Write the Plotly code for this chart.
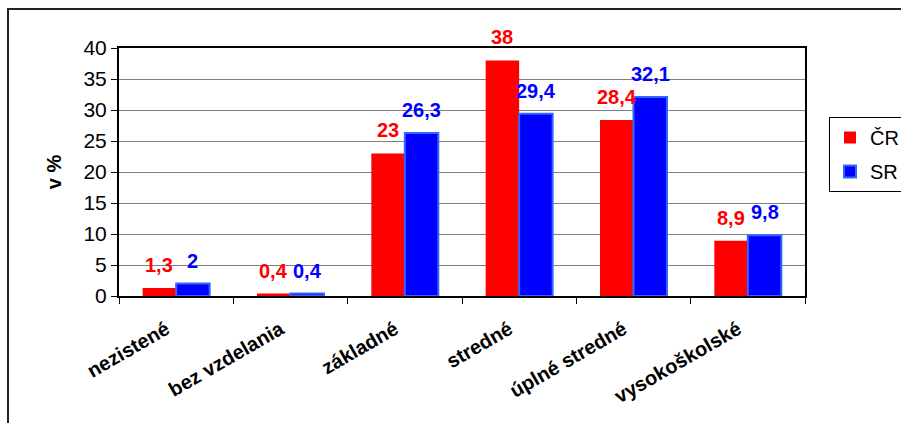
import plotly.graph_objects as go

categories = ["nezistené", "bez vzdelania", "základné", "stredné", "úplné stredné", "vysokoškolské"]
cr_values = [1.3, 0.4, 23, 38, 28.4, 8.9]
sr_values = [2, 0.4, 26.3, 29.4, 32.1, 9.8]
series_names = ["ČR", "SR"]
y_ticks = [0, 5, 10, 15, 20, 25, 30, 35, 40]

W, H = 901, 423
ML, MR, MT, MB = 119, 96, 48, 127
BARGAP = 0.414
plot_w = W - ML - MR
plot_h = H - MT - MB
cat_px = plot_w / len(categories)
shift = (1 - BARGAP) / 4 * cat_px

def fmt(v):
    return (f"{v:g}").replace(".", ",")

fig = go.Figure()
fig.add_trace(go.Bar(x=categories, y=cr_values, name=series_names[0],
                     marker=dict(color="#FF0000", line=dict(color="#FF0000", width=0)),
                     legendgroup="a"))
fig.add_trace(go.Bar(x=categories, y=sr_values, name=series_names[1],
                     marker=dict(color="#0000FF", line=dict(color="#3366FF", width=2)),
                     legendgroup="b"))

for vals, color, sgn in [(cr_values, "#FF0000", -1), (sr_values, "#0000FF", 1)]:
    for c, v in zip(categories, vals):
        fig.add_annotation(x=c, y=v, text=fmt(v), showarrow=False,
                           xshift=sgn * shift, yshift=23, yanchor="middle",
                           font=dict(family="Arial, Liberation Sans", size=20, color=color, weight="bold"))

# outer chart border (extends beyond the visible window)
x0 = (8 - ML) / plot_w
x1 = (W + 6 - ML) / plot_w
ytop = (H - MB - 9) / plot_h
ybot = (H - MB - (H + 8)) / plot_h
fig.add_shape(type="rect", xref="paper", yref="paper", x0=x0, x1=x1, y0=ybot, y1=ytop,
              line=dict(color="#222222", width=2), layer="below")

fig.update_layout(
    width=W, height=H,
    margin=dict(l=ML, r=MR, t=MT, b=MB, autoexpand=False),
    paper_bgcolor="white", plot_bgcolor="white",
    barmode="group", bargap=BARGAP, bargroupgap=0,
    font=dict(family="Arial, Liberation Sans", color="black"),
    legend=dict(x=(829 - ML) / plot_w, y=(H - MB - 117) / plot_h, xanchor="left", yanchor="top",
                bordercolor="black", borderwidth=1, bgcolor="white",
                font=dict(size=20), traceorder="grouped", tracegroupgap=5),
    showlegend=True,
)
fig.update_yaxes(range=[0, 40], tickvals=y_ticks, showgrid=True, gridcolor="#808080", gridwidth=1,
                 showline=True, linecolor="black", linewidth=2, mirror=True,
                 ticks="outside", ticklen=6, tickcolor="black",
                 tickfont=dict(size=21),
                 title=dict(text="v %", font=dict(size=20, weight="bold"), standoff=16),
                 zeroline=False)
fig.update_xaxes(showline=True, linecolor="black", linewidth=2, mirror=True,
                 ticks="outside", ticklen=6, tickcolor="black", tickson="boundaries",
                 tickangle=-30, tickfont=dict(size=20, weight="bold"),
                 ticklabelstandoff=12, ticklabelshift=-10)

fig.write_html("out.html")
